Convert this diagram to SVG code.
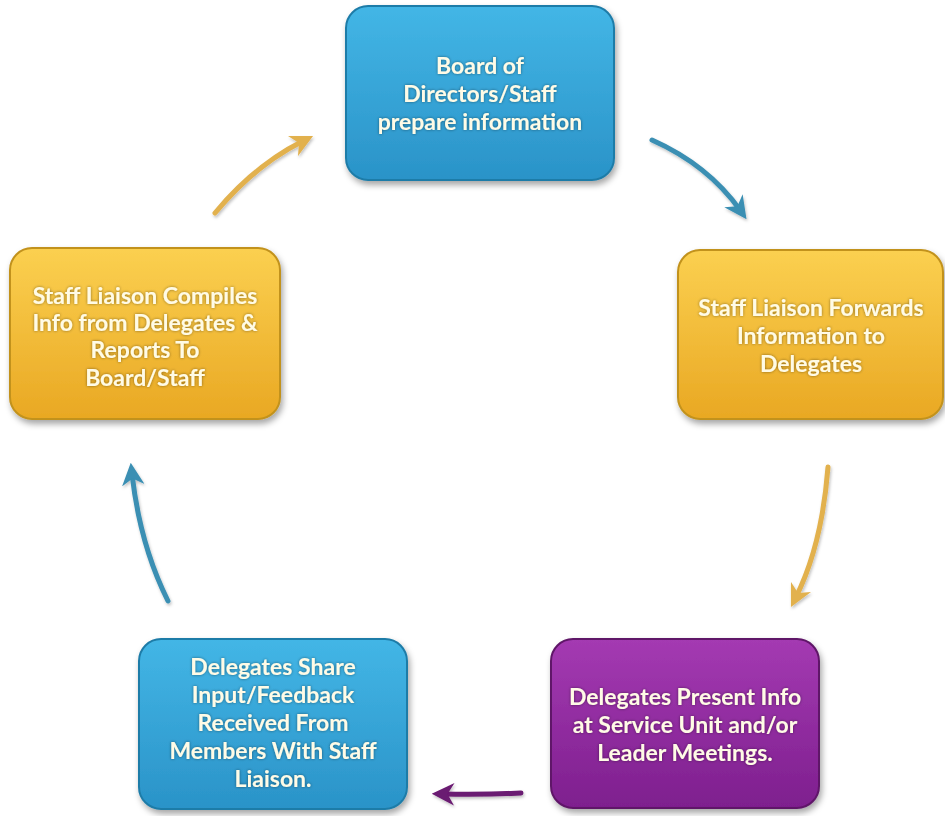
<svg xmlns="http://www.w3.org/2000/svg" width="945" height="816" viewBox="0 0 945 816">
<defs>
<linearGradient id="gBlue" x1="0" y1="0" x2="0" y2="1"><stop offset="0" stop-color="#43b6e6"/><stop offset="1" stop-color="#2a93c8"/></linearGradient>
<linearGradient id="gYel" x1="0" y1="0" x2="0" y2="1"><stop offset="0" stop-color="#fbd050"/><stop offset="1" stop-color="#e9a823"/></linearGradient>
<linearGradient id="gPur" x1="0" y1="0" x2="0" y2="1"><stop offset="0" stop-color="#a43ab2"/><stop offset="1" stop-color="#7e1f8e"/></linearGradient>
<filter id="sh" x="-10%" y="-10%" width="125%" height="130%"><feDropShadow dx="2" dy="4" stdDeviation="3" flood-color="#000" flood-opacity="0.35"/></filter>
<filter id="tg" x="-10%" y="-20%" width="120%" height="140%"><feDropShadow dx="0" dy="0" stdDeviation="1.5" flood-color="#000" flood-opacity="0.45"/></filter>
<filter id="as" filterUnits="userSpaceOnUse" x="0" y="0" width="945" height="816"><feDropShadow dx="1" dy="2" stdDeviation="1.5" flood-color="#000" flood-opacity="0.25"/></filter>
<marker id="mBlue" viewBox="0 0 10 10" refX="5" refY="5" markerWidth="4.5" markerHeight="4.5" orient="auto"><path d="M0,0 L10,5 L0,10 L3,5 Z" fill="#3a8fb3"/></marker>
<marker id="mYel" viewBox="0 0 10 10" refX="5" refY="5" markerWidth="4.5" markerHeight="4.5" orient="auto"><path d="M0,0 L10,5 L0,10 L3,5 Z" fill="#e2b14e"/></marker>
<marker id="mPur" viewBox="0 0 10 10" refX="5" refY="5" markerWidth="4.5" markerHeight="4.5" orient="auto"><path d="M0,0 L10,5 L0,10 L3,5 Z" fill="#6b1a72"/></marker>
</defs>
<style>
.box{stroke-width:2;filter:url(#sh)}
.blue{fill:url(#gBlue);stroke:#1f7ca8}
.yel{fill:url(#gYel);stroke:#c2921c}
.pur{fill:url(#gPur);stroke:#5f1568}
.t{font-family:Lato,"Open Sans",sans-serif;font-weight:bold;font-size:23px;fill:#fffbe6;text-anchor:middle;filter:url(#tg)}
.c{fill:none;stroke-width:5;stroke-linecap:round;filter:url(#as)}
</style>
<rect width="945" height="816" fill="#ffffff"/>
<g id="connectors">
<path class="c" d="M652,140 Q708,165 740,210" stroke="#3a8fb3" marker-end="url(#mBlue)"/>
<path class="c" d="M828,467 Q822,545 796,597" stroke="#e2b14e" marker-end="url(#mYel)"/>
<path class="c" d="M521,793 Q480,795 443,794" stroke="#6b1a72" marker-end="url(#mPur)"/>
<path class="c" d="M168,601 Q140,545 132,474" stroke="#3a8fb3" marker-end="url(#mBlue)"/>
<path class="c" d="M215,213 Q255,165 303,141" stroke="#e2b14e" marker-end="url(#mYel)"/>
</g>
<g id="node-board">
<rect class="box blue" x="346" y="6" width="268" height="174" rx="22"/>
<text class="t" x="480" y="74">Board of</text>
<text class="t" x="480" y="102">Directors/Staff</text>
<text class="t" x="480" y="130">prepare information</text>
</g>
<g id="node-forwards">
<rect class="box yel" x="678" y="250" width="265" height="169" rx="22"/>
<text class="t" x="811" y="316">Staff Liaison Forwards</text>
<text class="t" x="811" y="344">Information to</text>
<text class="t" x="811" y="372">Delegates</text>
</g>
<g id="node-present">
<rect class="box pur" x="551" y="639" width="268" height="169" rx="22"/>
<text class="t" x="685" y="705">Delegates Present Info</text>
<text class="t" x="685" y="733">at Service Unit and/or</text>
<text class="t" x="685" y="761">Leader Meetings.</text>
</g>
<g id="node-share">
<rect class="box blue" x="139" y="639" width="268" height="170" rx="22"/>
<text class="t" x="273" y="675">Delegates Share</text>
<text class="t" x="273" y="703">Input/Feedback</text>
<text class="t" x="273" y="731">Received From</text>
<text class="t" x="273" y="759">Members With Staff</text>
<text class="t" x="273" y="787">Liaison.</text>
</g>
<g id="node-compiles">
<rect class="box yel" x="10" y="248" width="270" height="171" rx="22"/>
<text class="t" x="145" y="304">Staff Liaison Compiles</text>
<text class="t" x="145" y="331">Info from Delegates &amp;</text>
<text class="t" x="145" y="358">Reports To</text>
<text class="t" x="145" y="386">Board/Staff</text>
</g>
</svg>
